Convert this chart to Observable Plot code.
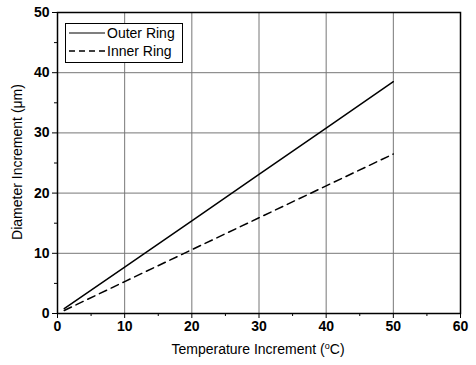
<!DOCTYPE html>
<html><head><meta charset="utf-8">
<script src="https://cdn.jsdelivr.net/npm/d3@7"></script>
<script src="https://cdn.jsdelivr.net/npm/@observablehq/plot@0.6"></script>
<style>
body{margin:0;background:#fff;}
#wrap{position:relative;width:476px;height:365px;font-family:"Liberation Sans",Arial,sans-serif;}
#legend{position:absolute;left:65px;top:23px;width:116px;height:38px;border:1px solid #000;background:#fff;font-size:14px;line-height:18px;}
#legend div{display:flex;align-items:center;height:18px;margin-left:3px;}
#legend svg{margin-right:2px;}
</style>
</head><body>
<div id="wrap"><div id="chart"></div>
<div id="legend">
<div><svg width="36" height="4"><line x1="0" x2="36" y1="2" y2="2" stroke="#000" stroke-width="1.2"/></svg>Outer Ring</div>
<div><svg width="36" height="4"><line x1="0" x2="36" y1="2" y2="2" stroke="#000" stroke-width="1.5" stroke-dasharray="6,4"/></svg>Inner Ring</div>
</div></div>
<script>
const temps = [1, 10, 20, 30, 40, 50];
const outer = [0.8, 7.7, 15.4, 23.1, 30.8, 38.5];
const inner = [0.5, 5.3, 10.6, 15.9, 21.2, 26.5];
const xTicks = [0, 10, 20, 30, 40, 50, 60];
const yTicks = [0, 10, 20, 30, 40, 50];
const xMinor = [5, 15, 25, 35, 45, 55];
const yMinor = [5, 15, 25, 35, 45];

const outerData = temps.map((t, i) => ({t, v: outer[i]}));
const innerData = temps.map((t, i) => ({t, v: inner[i]}));

const chart = Plot.plot({
  width: 476, height: 365,
  marginLeft: 57, marginRight: 16, marginTop: 12, marginBottom: 52,
  style: {fontFamily: "'Liberation Sans', Arial, sans-serif", fontSize: "13px", color: "#000", background: "#fff"},
  x: {domain: [0, 60]},
  y: {domain: [0, 50]},
  marks: [
    Plot.ruleX(xTicks.slice(1, -1), {stroke: "#777", strokeWidth: 1}),
    Plot.ruleY(yTicks.slice(1, -1), {stroke: "#777", strokeWidth: 1}),
    Plot.line(outerData, {x: "t", y: "v", stroke: "#000", strokeWidth: 1.5}),
    Plot.line(innerData, {x: "t", y: "v", stroke: "#000", strokeWidth: 1.5, strokeDasharray: "8,5"}),
    Plot.axisX(xTicks, {tickSize: 5, tickPadding: 3, fontWeight: "bold", fontSize: 14, label: null}),
    Plot.axisX(xMinor, {tickSize: 3, tickFormat: () => "", label: null}),
    Plot.axisY(yTicks, {tickSize: 5, tickPadding: 3, fontWeight: "bold", fontSize: 14, label: null}),
    Plot.axisY(yMinor, {tickSize: 3, tickFormat: () => "", label: null}),
    Plot.frame({stroke: "#000", strokeWidth: 1.5})
  ]
});

const svg = d3.select(chart);
svg.selectAll("text").each(function() {
  if (/^\d+$/.test(this.textContent.trim())) {
    this.style.fontWeight = "bold";
    this.style.fontFamily = "'Liberation Sans', Arial, sans-serif";
  }
});
svg.append("text")
  .attr("x", 258).attr("y", 354).attr("text-anchor", "middle")
  .attr("font-size", 14).attr("fill", "#000")
  .html('Temperature Increment (<tspan dy="-5" font-size="9">o</tspan><tspan dy="5">C)</tspan>');
svg.append("text")
  .attr("transform", "translate(22,162) rotate(-90)").attr("text-anchor", "middle")
  .attr("font-size", 14).attr("fill", "#000")
  .text("Diameter Increment (\u03bcm)");
document.getElementById("chart").appendChild(chart);
</script>
</body></html>
